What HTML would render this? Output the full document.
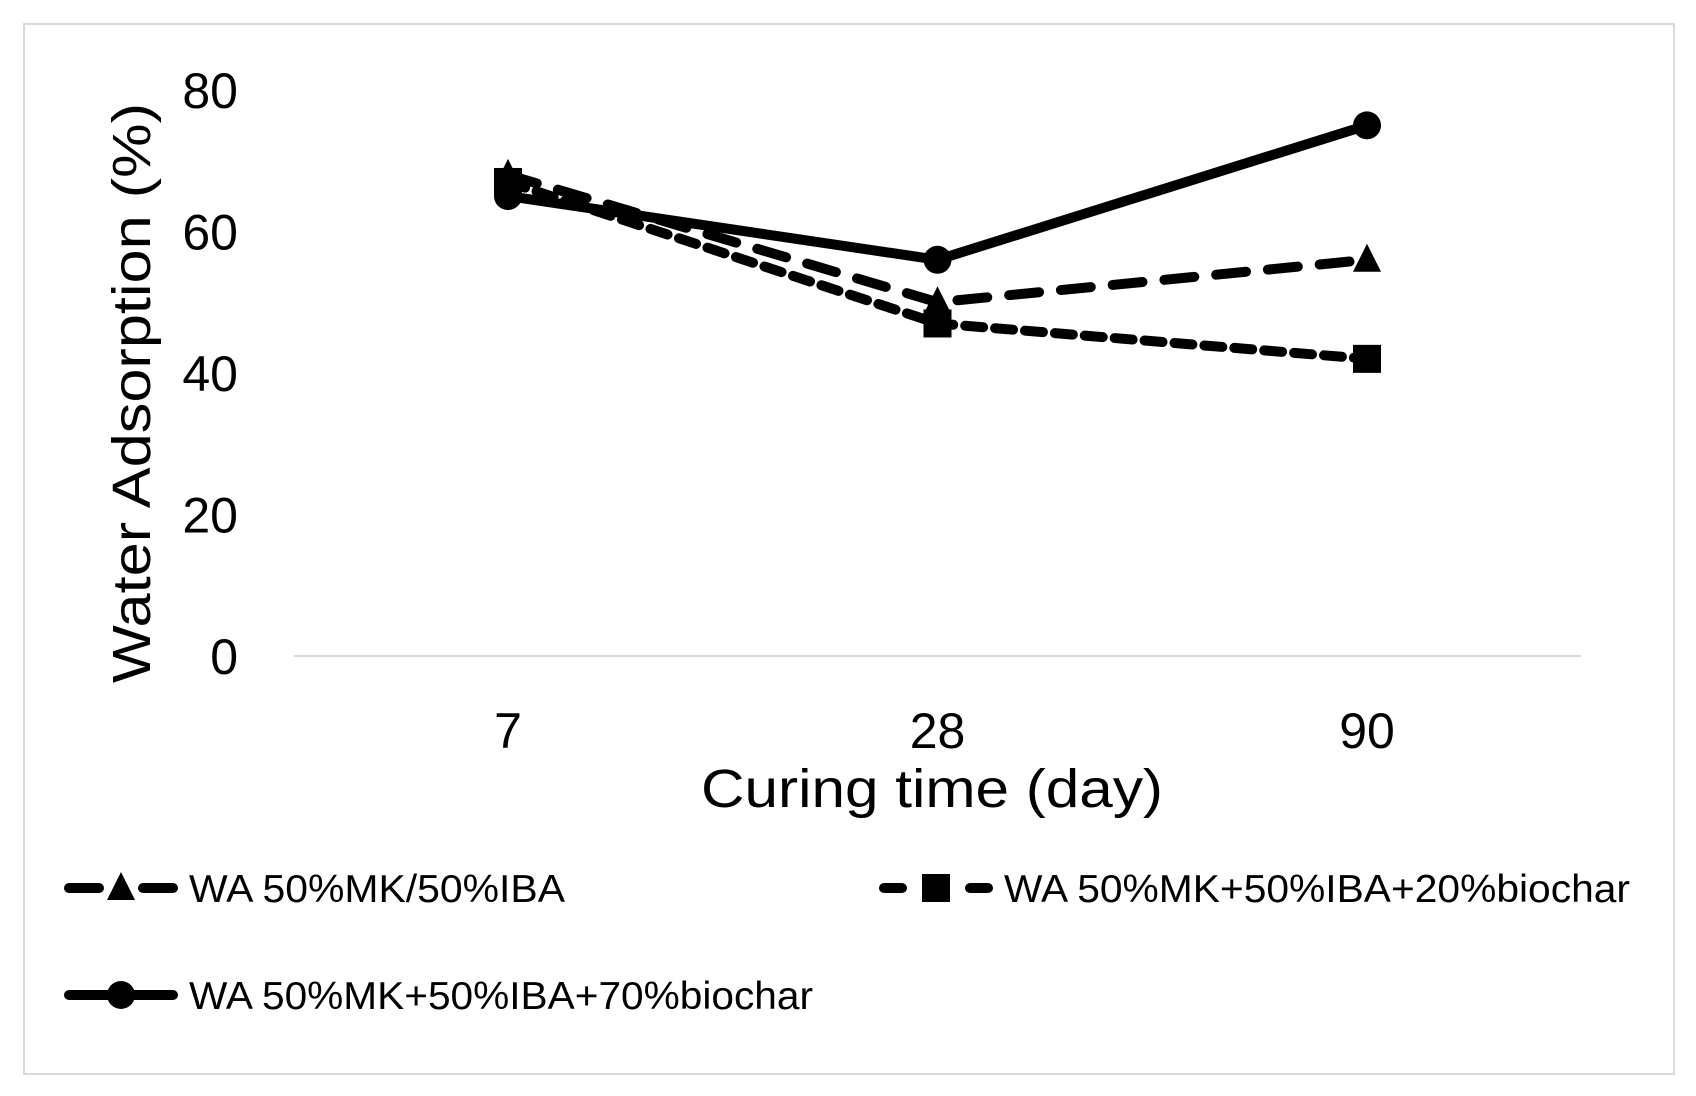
<!DOCTYPE html>
<html><head><meta charset="utf-8"><style>
html,body{margin:0;padding:0;background:#fff;}
svg{display:block;font-family:"Liberation Sans",sans-serif;}
</style></head><body>
<svg id="chart" width="1696" height="1096" viewBox="0 0 1696 1096">
<rect x="24" y="24" width="1650" height="1050" fill="#fff" stroke="#d9d9d9" stroke-width="2"/>
<line x1="294" y1="656" x2="1581" y2="656" stroke="#d9d9d9" stroke-width="2"/>
<g id="yticks"></g><g id="xticks"></g><g id="series"></g>
<text x="0" y="0" transform="translate(150,393) rotate(-90)" text-anchor="middle" font-size="54" textLength="580" lengthAdjust="spacingAndGlyphs">Water Adsorption (%)</text>
<text x="932" y="807" text-anchor="middle" font-size="54" textLength="462" lengthAdjust="spacingAndGlyphs">Curing time (day)</text>
<g id="legend"></g>
</svg>
<script>
const categories = ["7", "28", "90"];
const yTicks = [0, 20, 40, 60, 80];
const seriesNames = ["WA 50%MK/50%IBA", "WA 50%MK+50%IBA+20%biochar", "WA 50%MK+50%IBA+70%biochar"];
const seriesTriangle = [68, 50, 56];
const seriesSquare = [67, 47, 42];
const seriesCircle = [65, 56, 75];

const NS = "http://www.w3.org/2000/svg";
function y(v){ return 656 - v * (566 / 80); }
function x(i){ return 508 + i * 429.5; }
function mk(tag, attrs, parent){
  const e = document.createElementNS(NS, tag);
  for (const k in attrs) e.setAttribute(k, attrs[k]);
  parent.appendChild(e); return e;
}
const yt = document.getElementById('yticks');
yTicks.forEach(v => {
  const t = mk('text', {x: 238, y: y(v) + 18, 'text-anchor': 'end', 'font-size': 50}, yt);
  
  
  t.textContent = v;
});
const xt = document.getElementById('xticks');
categories.forEach((c, i) => {
  const t = mk('text', {x: x(i), y: 748, 'text-anchor': 'middle', 'font-size': 50}, xt);
  
  
  t.textContent = c;
});
const styles = [
  {data: seriesTriangle, dash: '30 22', marker: 'tri'},
  {data: seriesSquare, dash: '18 12', marker: 'sq'},
  {data: seriesCircle, dash: '', marker: 'circ'}
];
function marker(type, cx, cy, parent){
  let m;
  if (type === 'tri') m = mk('polygon', {points: `${cx},${cy-16} ${cx+14},${cy+12} ${cx-14},${cy+12}`, fill: '#000'}, parent);
  else if (type === 'sq') m = mk('rect', {x: cx-14, y: cy-14, width: 28, height: 28, fill: '#000'}, parent);
  else m = mk('circle', {cx: cx, cy: cy, r: 14, fill: '#000'}, parent);
  return m;
}
const sg = document.getElementById('series');
styles.forEach((s, si) => {
  const g = mk('g', {}, sg);
  
  
  const pts = s.data.map((v, i) => x(i) + ',' + y(v)).join(' ');
  const pl = mk('polyline', {points: pts, fill: 'none', stroke: '#000', 'stroke-width': 10, 'stroke-linecap': 'round', 'stroke-linejoin': 'round', 'stroke-dasharray': s.dash}, g);
  
  
  s.data.forEach((v, i) => {
    const m = marker(s.marker, x(i), y(v), g);
    
    
  });
});
const lg = document.getElementById('legend');
const legPos = [{x: 69, y: 888, tx: 189, tl: 376}, {x: 884, y: 888, tx: 1004, tl: 626}, {x: 69, y: 995, tx: 189, tl: 624}];
styles.forEach((s, si) => {
  const p = legPos[si];
  const g = mk('g', {}, lg);
  
  
  const dash = si === 0 ? '30 44' : (si === 1 ? '18 25' : '');
  mk('line', {x1: p.x, y1: p.y, x2: p.x + 104, y2: p.y, stroke: '#000', 'stroke-width': 10, 'stroke-linecap': 'round', 'stroke-dasharray': dash}, g);
  marker(s.marker, p.x + 52, p.y, g);
  const t = mk('text', {x: p.tx, y: p.y + 14, 'font-size': 39, textLength: p.tl, lengthAdjust: 'spacingAndGlyphs'}, g);
  
  
  t.textContent = seriesNames[si];
});
</script>
</body></html>
